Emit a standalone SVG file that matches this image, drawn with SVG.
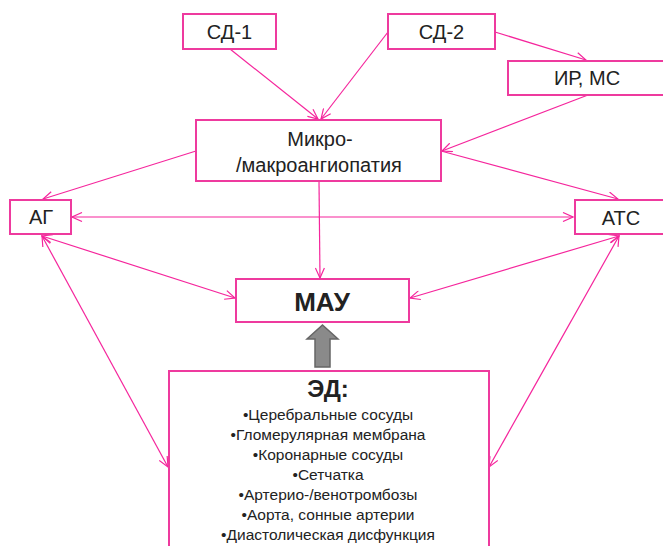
<svg xmlns="http://www.w3.org/2000/svg" width="663" height="546" viewBox="0 0 663 546">
<style>
.box{fill:#fff;stroke:#ee3a9e;stroke-width:2}
.t{font-family:"Liberation Sans",Arial,sans-serif;fill:#222;text-anchor:middle}
.n{font-size:20px}
.b{font-weight:bold;font-size:24px}
.m{font-size:26px}
.s{font-size:15.5px}
.c line{stroke:#f5259c;stroke-width:1.2;fill:none}
.e{marker-end:url(#ah)}
.d{marker-end:url(#ah);marker-start:url(#ah)}
</style>
<defs>
<marker id="ah" viewBox="0 0 12 10" refX="11" refY="5" markerWidth="12" markerHeight="10" markerUnits="userSpaceOnUse" orient="auto-start-reverse">
<path d="M1,0.5 L11,5 L1,9.5" fill="none" stroke="#f5259c" stroke-width="1.2"/>
</marker>
</defs>
<rect width="663" height="546" fill="#fff"/>
<g id="connectors" class="c">
<line class="e" x1="230" y1="49" x2="318" y2="119"/>
<line class="e" x1="388" y1="32" x2="321" y2="119"/>
<line class="e" x1="495" y1="32" x2="586" y2="60"/>
<line class="e" x1="588" y1="95" x2="442" y2="151"/>
<line class="e" x1="196" y1="151" x2="43" y2="199"/>
<line class="e" x1="441" y1="151" x2="618" y2="199"/>
<line class="e" x1="319" y1="181" x2="320" y2="278"/>
<line class="d" x1="72" y1="217" x2="573" y2="217"/>
<line class="d" x1="42" y1="236" x2="235" y2="298"/>
<line class="d" x1="42" y1="236" x2="168" y2="467"/>
<line class="d" x1="619" y1="236" x2="410" y2="298"/>
<line class="d" x1="619" y1="236" x2="489" y2="467"/>
</g>
<g id="sd1"><rect class="box" x="183" y="14" width="93" height="35"/><text class="t n" x="229.5" y="39">СД-1</text></g>
<g id="sd2"><rect class="box" x="388" y="14" width="107" height="35"/><text class="t n" x="441.5" y="39">СД-2</text></g>
<g id="irms"><rect class="box" x="508" y="61" width="160" height="34"/><text class="t n" x="587" y="85">ИР, МС</text></g>
<g id="micro"><rect class="box" x="196" y="120" width="245" height="61"/><text class="t n" x="320" y="146">Микро-</text><text class="t n" x="319" y="172">/макроангиопатия</text></g>
<g id="ag"><rect class="box" x="10" y="200" width="61" height="34"/><text class="t n" x="41" y="224">АГ</text></g>
<g id="ats"><rect class="box" x="575" y="200" width="95" height="34"/><text class="t n" x="621" y="225">АТС</text></g>
<g id="mau"><rect class="box" x="236" y="279" width="173" height="43"/><text class="t b m" x="322" y="311">МАУ</text></g>
<g id="bigarrow"><path d="M322.5,325 L338,339 L330,339 L330,367 L315,367 L315,339 L307,339 Z" fill="#8a8a8a" stroke="#666" stroke-width="1.5"/></g>
<g id="ed"><rect class="box" x="169" y="371" width="320" height="185"/>
<text class="t b" x="328" y="397">ЭД:</text>
<text class="t s" x="328" y="420">•Церебральные сосуды</text>
<text class="t s" x="328" y="440">•Гломерулярная мембрана</text>
<text class="t s" x="328" y="460">•Коронарные сосуды</text>
<text class="t s" x="328" y="480">•Сетчатка</text>
<text class="t s" x="328" y="500">•Артерио-/венотромбозы</text>
<text class="t s" x="328" y="520">•Аорта, сонные артерии</text>
<text class="t s" x="328" y="540">•Диастолическая дисфункция</text>
</g>
</svg>
